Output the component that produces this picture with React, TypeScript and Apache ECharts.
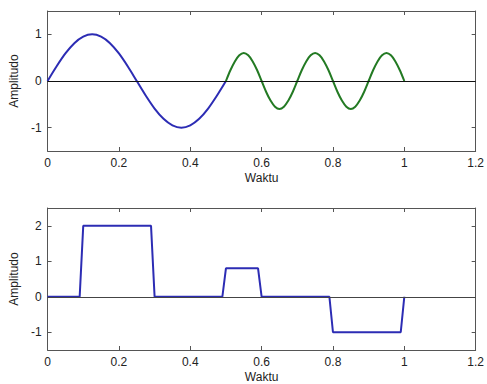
import React, { useEffect, useRef } from "react";
import * as echarts from "echarts";

// Top plot: first part (blue)
const waktuA = [0, 0.025, 0.05, 0.075, 0.1, 0.125, 0.15, 0.175, 0.2, 0.225, 0.25, 0.275, 0.3, 0.325, 0.35, 0.375, 0.4, 0.425, 0.45, 0.475, 0.5];
const amplitudoA = [0, 0.31, 0.59, 0.81, 0.95, 1, 0.95, 0.81, 0.59, 0.31, 0, -0.31, -0.59, -0.81, -0.95, -1, -0.95, -0.81, -0.59, -0.31, 0];

// Top plot: second part (green)
const waktuB = [0.5, 0.5125, 0.525, 0.5375, 0.55, 0.5625, 0.575, 0.5875, 0.6, 0.6125, 0.625, 0.6375, 0.65, 0.6625, 0.675, 0.6875, 0.7, 0.7125, 0.725, 0.7375, 0.75, 0.7625, 0.775, 0.7875, 0.8, 0.8125, 0.825, 0.8375, 0.85, 0.8625, 0.875, 0.8875, 0.9, 0.9125, 0.925, 0.9375, 0.95, 0.9625, 0.975, 0.9875, 1];
const amplitudoB = [0, 0.23, 0.42, 0.55, 0.6, 0.55, 0.42, 0.23, 0, -0.23, -0.42, -0.55, -0.6, -0.55, -0.42, -0.23, 0, 0.23, 0.42, 0.55, 0.6, 0.55, 0.42, 0.23, 0, -0.23, -0.42, -0.55, -0.6, -0.55, -0.42, -0.23, 0, 0.23, 0.42, 0.55, 0.6, 0.55, 0.42, 0.23, 0];

// Bottom plot: step signal
const waktuStep = [0, 0.09, 0.1, 0.29, 0.3, 0.49, 0.5, 0.59, 0.6, 0.79, 0.8, 0.99, 1];
const nilaiStep = [0, 0, 2, 2, 0, 0, 0.8, 0.8, 0, 0, -1, -1, 0];

const xTicksMax = 1.2;
const topYTicks = [-1, 0, 1];
const bottomYTicks = [-1, 0, 1, 2];

const FONT = "'Liberation Sans', Arial, sans-serif";
const FRAME = "#555";
const TEXT = "#222";
const BLUE = "#2c2cb4";
const GREEN = "#237a23";

function zip(xs: number[], ys: number[]) {
  return xs.map((x, i) => [x, ys[i]]);
}

export default function App() {
  const ref = useRef<HTMLDivElement>(null);
  useEffect(() => {
    if (!ref.current) return;
    const chart = echarts.init(ref.current, null, { renderer: "svg" });

    const xAxisBase = (gridIndex: number, pos: "bottom" | "top") => ({
      type: "value" as const,
      gridIndex,
      position: pos,
      min: 0,
      max: xTicksMax,
      interval: 0.2,
      axisLine: { show: true, onZero: false, lineStyle: { color: FRAME, width: 1 } },
      axisTick: { show: true, inside: true, length: 4, lineStyle: { color: FRAME } },
      axisLabel: {
        show: pos === "bottom",
        color: TEXT,
        fontFamily: FONT,
        fontSize: 12,
        margin: 6,
      },
      splitLine: { show: false },
      name: pos === "bottom" ? "Waktu" : "",
      nameLocation: "middle" as const,
      nameGap: 21,
      nameTextStyle: { color: TEXT, fontFamily: FONT, fontSize: 12 },
    });

    const yAxisBase = (gridIndex: number, pos: "left" | "right", min: number, max: number, ticks: number[]) => ({
      type: "value" as const,
      gridIndex,
      position: pos,
      min,
      max,
      axisLine: { show: true, onZero: false, lineStyle: { color: FRAME, width: 1 } },
      axisTick: { show: true, inside: true, length: 4, lineStyle: { color: FRAME }, customValues: ticks },
      axisLabel: {
        show: pos === "left",
        color: TEXT,
        fontFamily: FONT,
        fontSize: 12,
        margin: 6,
        customValues: ticks,
      },
      splitLine: { show: false },
      name: pos === "left" ? "Amplitudo" : "",
      nameLocation: "middle" as const,
      nameGap: 23,
      nameTextStyle: { color: TEXT, fontFamily: FONT, fontSize: 12 },
    });

    const zeroLine = (xAxisIndex: number, yAxisIndex: number, color: string) => ({
      type: "line" as const,
      xAxisIndex,
      yAxisIndex,
      data: [],
      z: 1,
      silent: true,
      markLine: {
        silent: true,
        symbol: ["none", "none"],
        label: { show: false },
        lineStyle: { color, width: 1, type: "solid" as const },
        data: [{ yAxis: 0 }],
      },
    });

    chart.setOption({
      animation: false,
      backgroundColor: "#ffffff",
      grid: [
        { left: 45, top: 11, width: 433, height: 140 },
        { left: 45, top: 208, width: 433, height: 143 },
      ],
      xAxis: [
        xAxisBase(0, "bottom"),
        xAxisBase(0, "top"),
        xAxisBase(1, "bottom"),
        xAxisBase(1, "top"),
      ],
      yAxis: [
        yAxisBase(0, "left", -1.5, 1.5, topYTicks),
        yAxisBase(0, "right", -1.5, 1.5, topYTicks),
        yAxisBase(1, "left", -1.5, 2.5, bottomYTicks),
        yAxisBase(1, "right", -1.5, 2.5, bottomYTicks),
      ],
      series: [
        zeroLine(0, 0, "#111"),
        zeroLine(2, 2, "#444"),
        {
          type: "line",
          xAxisIndex: 0,
          yAxisIndex: 0,
          data: zip(waktuA, amplitudoA),
          smooth: 0.3,
          showSymbol: false,
          z: 3,
          lineStyle: { color: BLUE, width: 2 },
        },
        {
          type: "line",
          xAxisIndex: 0,
          yAxisIndex: 0,
          data: zip(waktuB, amplitudoB),
          smooth: 0.3,
          showSymbol: false,
          z: 3,
          lineStyle: { color: GREEN, width: 2 },
        },
        {
          type: "line",
          xAxisIndex: 2,
          yAxisIndex: 2,
          data: zip(waktuStep, nilaiStep),
          showSymbol: false,
          z: 3,
          lineStyle: { color: BLUE, width: 2 },
        },
      ],
    });
    return () => chart.dispose();
  }, []);
  return <div ref={ref} style={{ position: "fixed", left: 0, top: 0, width: 487, height: 384 }} />;
}
